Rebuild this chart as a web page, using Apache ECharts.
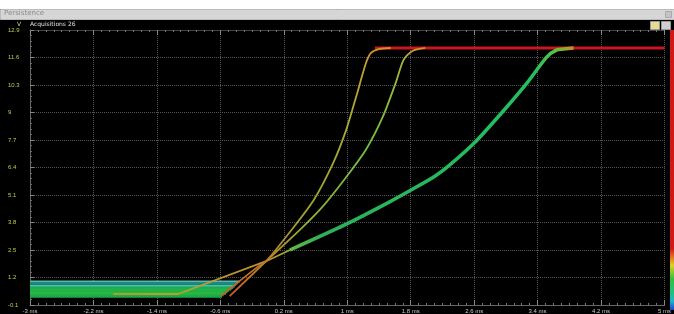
<!DOCTYPE html>
<html>
<head>
<meta charset="utf-8">
<title>Persistence</title>
<script src="https://cdn.jsdelivr.net/npm/echarts@6/dist/echarts.min.js"></script>
<style>
    html, body { margin: 0; padding: 0; background: #000; }
    #chart { width: 674px; height: 314px; }
</style>
</head>
<body>
<div id="chart"></div>
<script>
// 坐标轴范围 (ms / V)
const xMin = -3, xMax = 5, xStep = 0.8;
const yMin = -0.1, yMax = 12.9, yStep = 1.3;

// 快速上升的曲线 A
const timeA = [-0.595, -0.134, -0.022, 0.277, 0.576, 0.826, 0.988, 1.112, 1.237, 1.3, 1.399, 1.548];
const voltA = [0.32, 1.69, 1.97, 3.35, 4.85, 6.64, 8.19, 9.74, 11.35, 11.82, 12.0, 12.05];

// 中间的曲线 B
const timeB = [-0.483, -0.022, 0.402, 0.701, 0.988, 1.237, 1.449, 1.611, 1.71, 1.822, 1.984];
const voltB = [0.32, 1.97, 3.45, 4.6, 5.95, 7.25, 8.8, 10.4, 11.49, 11.91, 12.05];

// 缓慢上升的曲线 C：下段 (细, 黄) 和上段 (粗, 绿)
const timeCLow = [-1.95, -1.131, -0.022, 0.277];
const voltCLow = [0.42, 0.42, 1.97, 2.5];
const timeC = [0.277, 0.988, 1.523, 1.86, 2.109, 2.271, 2.607, 2.981, 3.268, 3.517, 3.642, 3.729, 3.854];
const voltC = [2.5, 3.72, 4.75, 5.45, 6.0, 6.45, 7.58, 9.13, 10.4, 11.63, 11.96, 12.0, 12.05];

// 顶部的饱和电平
const topTime = [1.35, 5];
const topVolt = [12.05, 12.05];

// 底部的基线 (每次采集的电平和结束时间)
const bandLevels = [1.0, 0.93, 0.86, 0.79, 0.72, 0.65, 0.58, 0.51, 0.44, 0.37, 0.3];
const bandEnds = [-0.36, -0.38, -0.4, -0.42, -0.44, -0.46, -0.49, -0.51, -0.53, -0.56, -0.58];

const bandColors = ["#5cb8a6", "#1b8a84", "#1a8580", "#4dbf9c", "#1fa858", "#22ae4a",
                    "#22b448", "#20b045", "#2cb845", "#22b048", "#1ea843"];

const chart = echarts.init(document.getElementById("chart"));

const pairs = (ts, vs) => ts.map((t, i) => [t, vs[i]]);
const fmt = v => parseFloat(v.toFixed(1));

// 基线系列
const bandSeries = bandLevels.map((level, i) => ({
    type: "line",
    data: [[xMin, level], [bandEnds[i], level]],
    showSymbol: false,
    lineStyle: { color: bandColors[i], width: 2.5 },
    z: 2,
}));

const grad = (x2, y2, stops) => new echarts.graphic.LinearGradient(0, 0, x2, y2,
    stops.map(s => ({ offset: s[0], color: s[1] })));

const option = {
    backgroundColor: "#000",
    animation: false,
    grid: { left: 30, right: 2, top: 30, bottom: 8 },
    xAxis: [
        {
            type: "value",
            min: xMin,
            max: xMax,
            interval: xStep,
            axisLine: { show: true, onZero: false, lineStyle: { color: "#666" } },
            axisTick: { show: true, inside: true, length: 5, lineStyle: { color: "#888" } },
            minorTick: { show: true, splitNumber: 8, length: 2, lineStyle: { color: "#777" } },
            axisLabel: {
                color: "#c8c8c8",
                fontSize: 6,
                margin: 3,
                showMaxLabel: true,
                formatter: v => fmt(v) + " ms",
            },
            splitLine: { show: true, lineStyle: { color: "#555", type: "dotted" } },
        },
        {
            type: "value",
            position: "top",
            min: xMin,
            max: xMax,
            interval: xStep,
            axisLine: { show: true, onZero: false, lineStyle: { color: "#444" } },
            axisTick: { show: true, inside: true, length: 5, lineStyle: { color: "#888" } },
            minorTick: { show: true, splitNumber: 8, length: 2, lineStyle: { color: "#777" } },
            axisLabel: { show: false },
            splitLine: { show: false },
        },
    ],
    yAxis: {
        type: "value",
        min: yMin,
        max: yMax,
        interval: yStep,
        axisLine: { show: true, onZero: false, lineStyle: { color: "#666" } },
        axisTick: { show: true, inside: true, length: 4, lineStyle: { color: "#888" } },
        minorTick: { show: true, splitNumber: 5, length: 2, lineStyle: { color: "#666" } },
        axisLabel: {
            color: "#c8c850",
            fontSize: 6,
            align: "left",
            margin: 22,
            formatter: v => fmt(v),
        },
        splitLine: { show: true, lineStyle: { color: "#555", type: "dotted" } },
    },
    series: [
        ...bandSeries,
        {
            // 顶部红线
            type: "line",
            data: pairs(topTime, topVolt),
            showSymbol: false,
            lineStyle: { color: "#c8181c", width: 3 },
            z: 3,
        },
        {
            type: "line",
            data: pairs(timeCLow, voltCLow),
            showSymbol: false,
            lineStyle: {
                width: 1.8,
                color: grad(1, 0, [[0, "#a8a030"], [0.5, "#b8a030"], [0.85, "#c08a30"], [1, "#8ab838"]]),
            },
            z: 4,
        },
        {
            type: "line",
            data: pairs(timeC, voltC),
            showSymbol: false,
            smooth: 0.25,
            lineStyle: {
                width: 3.5,
                color: grad(1, 0, [[0, "#6cb840"], [0.12, "#2eb058"], [0.85, "#22c060"],
                    [0.93, "#60c040"], [1, "#d08a2a"]]),
            },
            z: 4,
        },
        {
            type: "line",
            data: pairs(timeB, voltB),
            showSymbol: false,
            smooth: 0.25,
            lineStyle: {
                width: 1.8,
                color: grad(0, 1, [[0, "#d88a2a"], [0.06, "#a8b838"], [0.4, "#70c040"],
                    [0.7, "#90b038"], [0.88, "#c07a28"], [1, "#c85a20"]]),
            },
            z: 5,
        },
        {
            type: "line",
            data: pairs(timeA, voltA),
            showSymbol: false,
            smooth: 0.25,
            lineStyle: {
                width: 1.8,
                color: grad(0, 1, [[0, "#d88a2a"], [0.06, "#c9a030"], [0.3, "#a8aa38"],
                    [0.7, "#a0a030"], [0.9, "#c07028"], [1, "#c85a20"]]),
            },
            z: 6,
        },
    ],
    graphic: [
        // 窗口标题栏
        { type: "rect", left: 0, top: 0, shape: { width: 674, height: 9 }, style: { fill: "#fff" } },
        { type: "rect", left: 0, top: 9, shape: { width: 674, height: 10 }, style: { fill: "#d6d6d6", stroke: "#bbb" } },
        { type: "text", left: 4, top: 10, style: { text: "Persistence", fill: "#8a8a8a", fontSize: 7, fontFamily: "DejaVu Sans" } },
        { type: "rect", left: 665, top: 11, shape: { width: 6, height: 6 }, style: { fill: "#c4c4c4", stroke: "#aaa" } },
        // 通道标注
        { type: "text", left: 17, top: 21, style: { text: "V", fill: "#d8d860", fontSize: 6, fontFamily: "DejaVu Sans" } },
        { type: "text", left: 30, top: 21, style: { text: "Acquisitions 26", fill: "#e0e0e0", fontSize: 6, fontFamily: "DejaVu Sans" } },
        // 右上角按钮
        { type: "rect", left: 650, top: 21, shape: { width: 9, height: 8 }, style: { fill: "#e8dc90", stroke: "#999" } },
        { type: "rect", left: 661, top: 21, shape: { width: 9, height: 8 }, style: { fill: "#cfcfcf", stroke: "#999" } },
        // 余辉颜色条
        {
            type: "rect",
            left: 670,
            top: 30,
            shape: { width: 4, height: 280 },
            style: {
                fill: grad(0, 1, [[0, "#d01818"], [0.78, "#d01818"], [0.81, "#e07020"], [0.84, "#e0d020"],
                    [0.89, "#30c040"], [0.94, "#20c080"], [0.97, "#20b0d0"], [1, "#2040d0"]]),
            },
            z: 10,
        },
    ],
};

chart.setOption(option);
</script>
</body>
</html>
